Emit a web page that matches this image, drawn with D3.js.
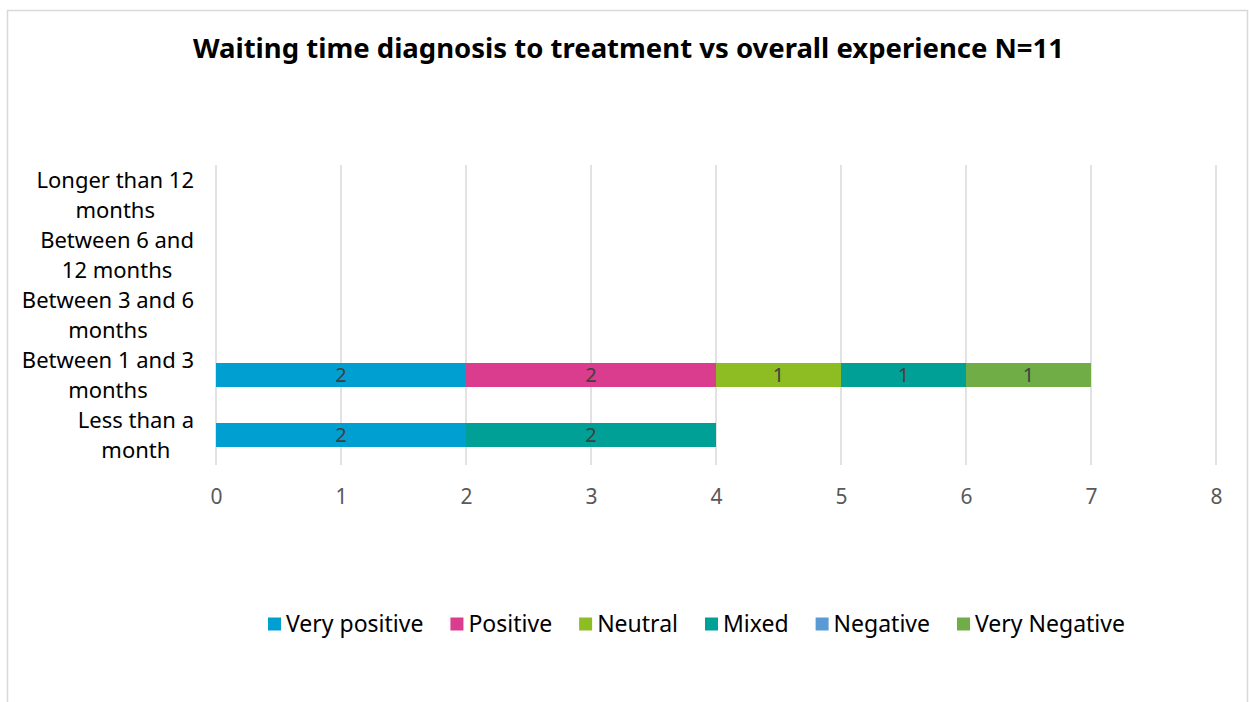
<!DOCTYPE html>
<html>
<head>
<meta charset="utf-8">
<script src="https://cdn.jsdelivr.net/npm/d3@7"></script>
<style>
    body { margin: 0; background: #fff; }
    svg { display: block; font-family: "Noto Sans", "DejaVu Sans", sans-serif; }
</style>
</head>
<body>
<svg id="chart" width="1249" height="702"></svg>
<script>
// Waiting time diagnosis to treatment vs overall experience

const categories = [
    'Less than a month',
    'Between 1 and 3 months',
    'Between 3 and 6 months',
    'Between 6 and 12 months',
    'Longer than 12 months'
];
const categoryLines = [
    ['Less than a', 'month'],
    ['Between 1 and 3', 'months'],
    ['Between 3 and 6', 'months'],
    ['Between 6 and', '12 months'],
    ['Longer than 12', 'months']
];
const seriesNames = ['Very positive', 'Positive', 'Neutral', 'Mixed', 'Negative', 'Very Negative'];
const seriesColors = ['#009fd1', '#da3c8e', '#8dbd23', '#00a096', '#5b9bd5', '#70ad47'];

const veryPositive = [2, 2, 0, 0, 0];
const positive = [0, 2, 0, 0, 0];
const neutral = [0, 1, 0, 0, 0];
const mixed = [2, 1, 0, 0, 0];
const negative = [0, 0, 0, 0, 0];
const veryNegative = [0, 1, 0, 0, 0];

const xTicks = [0, 1, 2, 3, 4, 5, 6, 7, 8];

const seriesValues = [veryPositive, positive, neutral, mixed, negative, veryNegative];
const rows = categories.map((c, i) => {
    const row = { category: c };
    seriesNames.forEach((s, j) => row[s] = seriesValues[j][i]);
    return row;
});

const svg = d3.select('#chart');
const width = 1249, height = 702;
const margin = { top: 165, left: 216, right: 33, bottom: 237 };

// chart frame
svg.append('path')
    .attr('d', `M7.5,${height}V10.5H${width - 1.5}V${height}`)
    .attr('fill', 'none')
    .attr('stroke', '#d9d9d9')
    .attr('stroke-width', 1.5);

svg.append('text')
    .attr('x', 628.5)
    .attr('y', 58)
    .attr('text-anchor', 'middle')
    .attr('font-size', 27.5)
    .attr('font-weight', 'bold')
    .attr('fill', '#000')
    .text('Waiting time diagnosis to treatment vs overall experience N=11');

const x = d3.scaleLinear()
    .domain([0, 8])
    .range([margin.left, width - margin.right]);

const y = d3.scaleBand()
    .domain(categories.slice().reverse())
    .range([margin.top, height - margin.bottom])
    .paddingInner(0.6)
    .paddingOuter(0.3);

// gridlines
svg.append('g')
    .selectAll('line')
    .data(xTicks)
    .join('line')
    .attr('x1', d => x(d))
    .attr('x2', d => x(d))
    .attr('y1', margin.top)
    .attr('y2', height - margin.bottom)
    .attr('stroke', '#d9d9d9')
    .attr('stroke-width', 1.5);

// x axis labels
const xAxis = svg.append('g')
    .attr('transform', `translate(0,${height - margin.bottom})`)
    .call(d3.axisBottom(x).tickValues(xTicks).tickSize(0).tickPadding(24).tickFormat(d3.format('d')));
xAxis.select('.domain').remove();
xAxis.selectAll('text')
    .attr('font-size', 21)
    .attr('fill', '#595959')
    .attr('font-family', '"Noto Sans", sans-serif');

// stacked bars
const stack = d3.stack().keys(seriesNames)(rows);

const layers = svg.append('g')
    .selectAll('g')
    .data(stack)
    .join('g')
    .attr('fill', (d, i) => seriesColors[i]);

layers.selectAll('rect')
    .data(d => d.filter(p => p[1] - p[0] > 0))
    .join('rect')
    .attr('x', d => x(d[0]))
    .attr('width', d => x(d[1]) - x(d[0]))
    .attr('y', d => y(d.data.category))
    .attr('height', y.bandwidth());

layers.selectAll('text')
    .data(d => d.filter(p => p[1] - p[0] > 0))
    .join('text')
    .attr('x', d => (x(d[0]) + x(d[1])) / 2)
    .attr('y', d => y(d.data.category) + y.bandwidth() / 2)
    .attr('dy', '0.36em')
    .attr('text-anchor', 'middle')
    .attr('font-size', 20)
    .attr('fill', '#404040')
    .text(d => d[1] - d[0]);

// category labels: lines centred in a right-aligned block
const labelRight = 194;
const lineStep = 30;
const labels = svg.append('g')
    .selectAll('text')
    .data(categories)
    .join('text')
    .attr('text-anchor', 'middle')
    .attr('font-size', 22)
    .attr('fill', '#000');

labels.each(function (c, i) {
    const t = d3.select(this);
    const lines = categoryLines[i];
    const cy = y(c) + y.bandwidth() / 2;
    const spans = t.selectAll('tspan')
        .data(lines)
        .join('tspan')
        .attr('y', (d, k) => cy + (k - (lines.length - 1) / 2) * lineStep)
        .attr('dy', '0.36em')
        .text(d => d);
    let maxW = 0;
    spans.each(function () { maxW = Math.max(maxW, this.getComputedTextLength()); });
    spans.attr('x', labelRight - maxW / 2);
});

// legend
const legend = svg.append('g').attr('transform', 'translate(0,624)');
const items = legend.selectAll('g')
    .data(seriesNames)
    .join('g');

items.append('rect')
    .attr('y', -6.5)
    .attr('width', 13)
    .attr('height', 13)
    .attr('fill', (d, i) => seriesColors[i]);

items.append('text')
    .attr('x', 18)
    .attr('dy', '0.36em')
    .attr('font-size', 23)
    .attr('fill', '#000')
    .text(d => d);

let offset = 268;
items.attr('transform', function () {
    const pos = offset;
    offset += 18 + d3.select(this).select('text').node().getComputedTextLength() + 27;
    return `translate(${pos},0)`;
});
</script>
</body>
</html>
